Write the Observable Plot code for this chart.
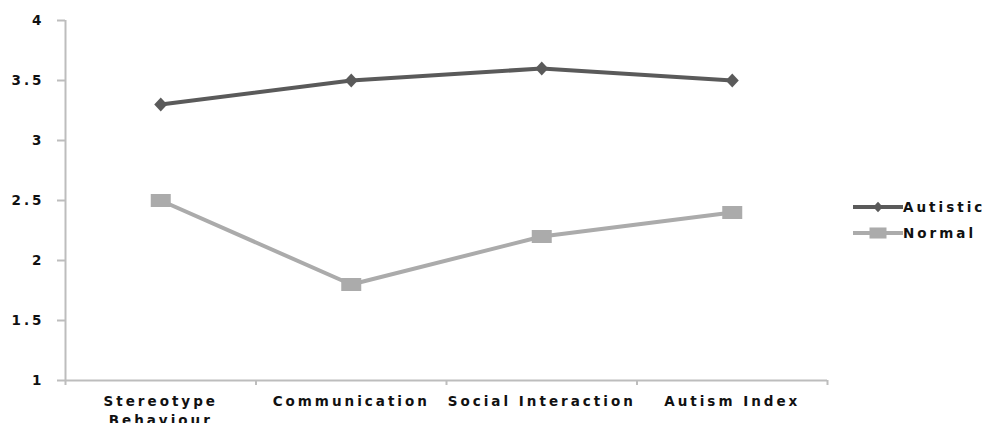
<!DOCTYPE html>
<html><head><meta charset="utf-8">
<script src="https://cdn.jsdelivr.net/npm/d3@7"></script>
<script src="https://cdn.jsdelivr.net/npm/@observablehq/plot@0.6"></script>
<style>
body{margin:0;background:#fff;}
#wrap{position:relative;width:984px;height:423px;overflow:hidden;}
#wrap svg text{letter-spacing:3px;font-weight:bold;font-family:"DejaVu Sans";}
#legend{position:absolute;left:850px;top:193px;}
</style></head><body><div id="wrap"></div>
<script>
const categories = ["Stereotype Behaviour","Communication","Social Interaction","Autism Index"];
const tickLabels = ["Stereotype\nBehaviour","Communication","Social Interaction","Autism Index"];
const autistic = [3.3,3.5,3.6,3.5];
const normal = [2.5,1.8,2.2,2.4];
const yTicks = [1,1.5,2,2.5,3,3.5,4];
const seriesNames = ["Autistic","Normal"];
const colors = ["#5a5a5a","#ababab"];

const rows = [];
categories.forEach((c,i)=>{
  rows.push({i, cat:c, series:"Autistic", value:autistic[i]});
  rows.push({i, cat:c, series:"Normal", value:normal[i]});
});

const diamond = {draw(ctx){ctx.moveTo(0,-7);ctx.lineTo(6.5,0);ctx.lineTo(0,7);ctx.lineTo(-6.5,0);ctx.closePath();}};
const wideRect = {draw(ctx){ctx.rect(-10,-6.5,20,13);}};
const axisColor = "#bdbdbd";
const font = "DejaVu Sans";

const chart = Plot.plot({
  width: 984, height: 423,
  marginLeft: 65, marginRight: 157, marginTop: 20, marginBottom: 43,
  style: {fontFamily: font, fontSize: "13.5px", fontWeight: "bold", color: "#111", background: "#fff"},
  x: {type: "linear", domain: [-0.5, categories.length - 0.5], axis: null},
  y: {domain: [1, 4], axis: null},
  color: {domain: seriesNames, range: colors},
  symbol: {domain: seriesNames, range: [diamond, wideRect]},
  marks: [
    Plot.ruleX([-0.5], {stroke: axisColor, strokeWidth: 2}),
    Plot.ruleY([1], {stroke: axisColor, strokeWidth: 2}),
    Plot.axisY({ticks: yTicks, label: null, tickSize: 8, tickPadding: 13, stroke: axisColor, strokeWidth: 2, tickFormat: d => String(d), fill: "#111"}),
    Plot.axisX({ticks: d3.range(categories.length + 1).map(k => k - 0.5), label: null, tickSize: 5, tickFormat: () => "", stroke: axisColor, strokeWidth: 2}),
    Plot.axisX({ticks: d3.range(categories.length), label: null, tickSize: 0, tickPadding: 12, lineHeight: 1.4, tickFormat: k => tickLabels[k], fill: "#111"}),
    Plot.line(rows, {x: "i", y: "value", z: "series", stroke: "series", strokeWidth: 4}),
    Plot.dot(rows, {x: "i", y: "value", symbol: "series", fill: "series", stroke: "none"})
  ]
});
const wrap = document.getElementById("wrap");
wrap.appendChild(chart);

// legend
const leg = d3.select(wrap).append("svg").attr("id","legend").attr("width",134).attr("height",56);
seriesNames.forEach((s, k) => {
  const g = leg.append("g").attr("transform", `translate(0,${14 + k*26})`);
  g.append("line").attr("x1",3).attr("x2",53).attr("stroke",colors[k]).attr("stroke-width",4);
  const sym = k === 0 ? diamond : wideRect;
  const p = d3.path(); sym.draw(p);
  g.append("path").attr("d", p.toString()).attr("transform", k===0 ? "translate(28,0) scale(0.75)" : "translate(28,0) scale(0.85)").attr("fill", colors[k]);
  g.append("text").attr("x",53).attr("dy","0.35em").text(s)
    .style("font-size","13.5px").attr("fill","#111");
});
</script></body></html>
